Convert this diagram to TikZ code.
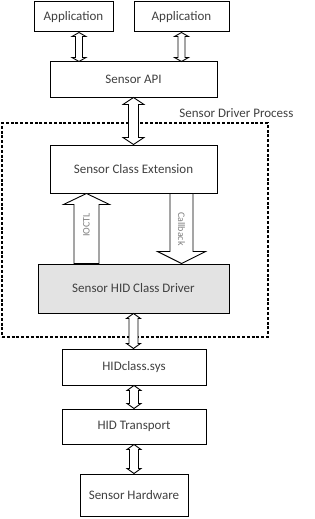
\documentclass[tikz,border=0pt]{standalone}
\usepackage{fontspec}
\setmainfont{Carlito}
\usetikzlibrary{calc}
\definecolor{txtgray}{HTML}{404040}
\definecolor{lblgray}{HTML}{808080}
\definecolor{drvfill}{HTML}{E3E3E3}

% hollow double arrow: top point, bottom point, half shaft, half head, head length
\newcommand{\dblarrow}[5]{%
  \draw[fill=white] let \p1=(#1), \p2=(#2) in
    (\x1,\y1) -- (\x1+#4,\y1-#5) -- (\x1+#3,\y1-#5) -- (\x1+#3,\y2+#5) -- (\x1+#4,\y2+#5)
    -- (\x1,\y2) -- (\x1-#4,\y2+#5) -- (\x1-#3,\y2+#5) -- (\x1-#3,\y1-#5) -- (\x1-#4,\y1-#5) -- cycle;}
% hollow single arrow pointing up: tip, base
\newcommand{\uparr}[5]{%
  \draw[fill=white] let \p1=(#1), \p2=(#2) in
    (\x1,\y1) -- (\x1+#4,\y1-#5) -- (\x1+#3,\y1-#5) -- (\x1+#3,\y2) -- (\x1-#3,\y2)
    -- (\x1-#3,\y1-#5) -- (\x1-#4,\y1-#5) -- cycle;}
% hollow single arrow pointing down: base, tip
\newcommand{\downarr}[5]{%
  \draw[fill=white] let \p1=(#1), \p2=(#2) in
    (\x1-#3,\y1) -- (\x1+#3,\y1) -- (\x1+#3,\y2+#5) -- (\x1+#4,\y2+#5) -- (\x1,\y2)
    -- (\x1-#4,\y2+#5) -- (\x1-#3,\y2+#5) -- cycle;}

\begin{document}
\begin{tikzpicture}[x=1pt, y=-1pt, line width=0.9pt,
   box/.style={draw, line width=1pt, inner sep=0pt, text=txtgray, font=\fontsize{13}{15}\selectfont},
   lbl/.style={text=lblgray, font=\fontsize{10}{12}\selectfont, inner sep=0pt}]
  \useasboundingbox (0,0) rectangle (315,519);
  % applications and API
  \node[box, minimum width=79pt, minimum height=30pt] (app1) at (73.5,17) {Application};
  \node[box, minimum width=95pt, minimum height=30pt] (app2) at (181.5,17) {Application};
  \node[box, minimum width=167pt, minimum height=35pt] (api) at (133.5,79.5) {Sensor API};
  % driver process
  \node[draw, dash pattern=on 3pt off 1.8pt, line width=1.4pt, minimum width=266pt, minimum height=214pt, inner sep=0pt] (proc) at (135,230) {};
  \node[text=txtgray, font=\fontsize{13}{15}\selectfont, anchor=west, inner sep=0pt] (proclbl) at (179,113) {Sensor Driver Process};
  \node[box, minimum width=167pt, minimum height=48pt] (sce) at (133.5,169) {Sensor Class Extension};
  \node[box, fill=drvfill, minimum width=191pt, minimum height=49pt] (hid) at (133.5,288.5) {Sensor HID Class Driver};
  % lower stack
  \node[box, minimum width=144pt, minimum height=36pt] (hcs) at (134,367) {HIDclass.sys};
  \node[box, minimum width=144pt, minimum height=35pt] (tran) at (134,426.5) {HID Transport};
  \node[box, minimum width=108pt, minimum height=42pt] (hw) at (134,495) {Sensor Hardware};
  % arrows
  \dblarrow{$(app1.south)+(5.5,0)$}{api.north}{3.5pt}{7pt}{4pt}
  \dblarrow{app2.south}{api.north}{3.5pt}{7pt}{4pt}
  \dblarrow{api.south}{sce.north}{5pt}{10.5pt}{7pt}
  \uparr{$(sce.south)+(-47,0)$}{hid.north}{12.5pt}{23pt}{11pt}
  \downarr{$(sce.south)+(48,0)$}{hid.north}{11.5pt}{24pt}{12pt}
  \dblarrow{hid.south}{hcs.north}{4.5pt}{7pt}{5pt}
  \dblarrow{hcs.south}{tran.north}{4.5pt}{7pt}{5pt}
  \dblarrow{tran.south}{hw.north}{4.5pt}{7pt}{5pt}
  \node[lbl, rotate=90] (ioctl) at (86.5,225) {IOCTL};
  \node[lbl, rotate=-90] (cb) at (181.5,229) {Callback};
\end{tikzpicture}
\end{document}
